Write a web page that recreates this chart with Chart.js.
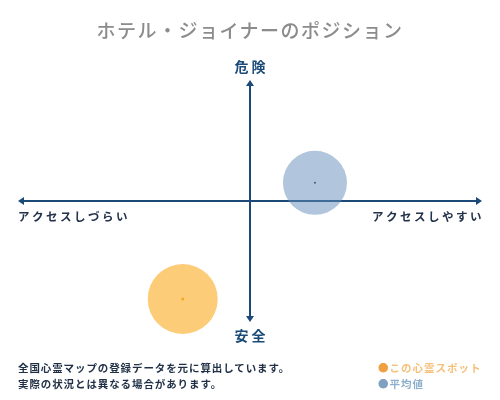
<!DOCTYPE html>
<html><head><meta charset="utf-8">
<script src="https://cdn.jsdelivr.net/npm/chart.js@4/dist/chart.umd.min.js"></script>
<style>
body{margin:0;background:#fff;}
#wrap{position:relative;width:500px;height:400px;overflow:hidden;font-family:"Noto Sans CJK JP",sans-serif;}
canvas{position:absolute;left:0;top:0;}
.t{position:absolute;white-space:nowrap;}
</style></head>
<body><div id="wrap">
<canvas id="c" width="500" height="400"></canvas>
<div class="t" style="left:0;width:500px;top:16px;text-align:center;font-size:19px;letter-spacing:1.5px;color:#8c8c8c;font-weight:500;">ホテル・ジョイナーのポジション</div>
<div class="t" style="left:18px;top:360px;font-size:10.5px;letter-spacing:0.9px;color:#1f2f45;font-weight:bold;line-height:16px;">全国心霊マップの登録データを元に算出しています。<br>実際の状況とは異なる場合があります。</div>
<div class="t" style="left:378px;top:360px;font-size:10.5px;letter-spacing:1px;line-height:16px;font-weight:bold;">
<span style="color:#f0a040">●</span><span style="color:#f5c079">この心霊スポット</span><br>
<span style="color:#7fa0c0">●</span><span style="color:#8fb0cc">平均値</span></div>
</div>
<script>
const seriesNames = ["この心霊スポット", "平均値"];
const spotX = [-2.9];
const spotY = [-8.1];
const spotR = [35];
const avgX = [2.8];
const avgY = [1.5];
const avgR = [32];
const axisLabels = {top:"危 険", bottom:"安 全", left:"アクセスしづらい", right:"アクセスしやすい"};

const axisColor = "#1b4a78";
const axesPlugin = {
  id:"axes",
  beforeDatasetsDraw(chart){
    const ctx = chart.ctx, xs = chart.scales.x, ys = chart.scales.y;
    const x0 = xs.getPixelForValue(0), y0 = ys.getPixelForValue(0);
    const l = xs.getPixelForValue(xs.min), r = xs.getPixelForValue(xs.max);
    const t = ys.getPixelForValue(ys.max), b = ys.getPixelForValue(ys.min);
    ctx.save();
    ctx.strokeStyle = axisColor; ctx.fillStyle = axisColor; ctx.lineWidth = 2;
    ctx.beginPath();
    ctx.moveTo(l+4,y0); ctx.lineTo(r-4,y0);
    ctx.moveTo(x0,t+4); ctx.lineTo(x0,b-4);
    ctx.stroke();
    const a = 6, w = 4;
    ctx.beginPath(); ctx.moveTo(l,y0); ctx.lineTo(l+a,y0-w); ctx.lineTo(l+a,y0+w); ctx.closePath(); ctx.fill();
    ctx.beginPath(); ctx.moveTo(r,y0); ctx.lineTo(r-a,y0-w); ctx.lineTo(r-a,y0+w); ctx.closePath(); ctx.fill();
    ctx.beginPath(); ctx.moveTo(x0,t); ctx.lineTo(x0-w,t+a); ctx.lineTo(x0+w,t+a); ctx.closePath(); ctx.fill();
    ctx.beginPath(); ctx.moveTo(x0,b); ctx.lineTo(x0-w,b-a); ctx.lineTo(x0+w,b-a); ctx.closePath(); ctx.fill();
    ctx.font = 'bold 14px "Noto Sans CJK JP"';
    ctx.textAlign = "center"; ctx.textBaseline = "middle";
    ctx.fillText(axisLabels.top, x0, t-13);
    ctx.fillText(axisLabels.bottom, x0, b+14);
    ctx.font = 'bold 11.5px "Noto Sans CJK JP"';
    ctx.fillStyle = "#22324a";
    if (ctx.letterSpacing !== undefined) ctx.letterSpacing = "2.5px";
    ctx.textAlign = "left";
    ctx.fillText(axisLabels.left, l, y0+16);
    ctx.textAlign = "right";
    ctx.fillText(axisLabels.right, r+2, y0+16);
    ctx.restore();
  }
};

new Chart(document.getElementById("c"), {
  type:"bubble",
  data:{datasets:[
    {label:seriesNames[0], data:spotX.map((v,i)=>({x:v,y:spotY[i],r:spotR[i]})), backgroundColor:"rgba(252,170,30,0.6)", borderWidth:0, hoverRadius:0, clip:false},
    {label:seriesNames[1], data:avgX.map((v,i)=>({x:v,y:avgY[i],r:avgR[i]})), backgroundColor:"rgba(100,140,185,0.5)", borderWidth:0, hoverRadius:0, clip:false},
    {label:"c1", data:spotX.map((v,i)=>({x:v,y:spotY[i],r:1.5})), backgroundColor:"#f0a020", borderWidth:0, clip:false},
    {label:"c2", data:avgX.map((v,i)=>({x:v,y:avgY[i],r:1})), backgroundColor:"#1b2a40", borderWidth:0, clip:false}
  ]},
  options:{
    responsive:false, animation:false, devicePixelRatio:1,
    layout:{autoPadding:false, padding:{left:18,right:18,top:80,bottom:78}},
    plugins:{legend:{display:false},tooltip:{enabled:false},title:{display:false}},
    scales:{x:{display:false,min:-10,max:10},y:{display:false,min:-10,max:10}}
  },
  plugins:[axesPlugin]
});
</script>
</body></html>
